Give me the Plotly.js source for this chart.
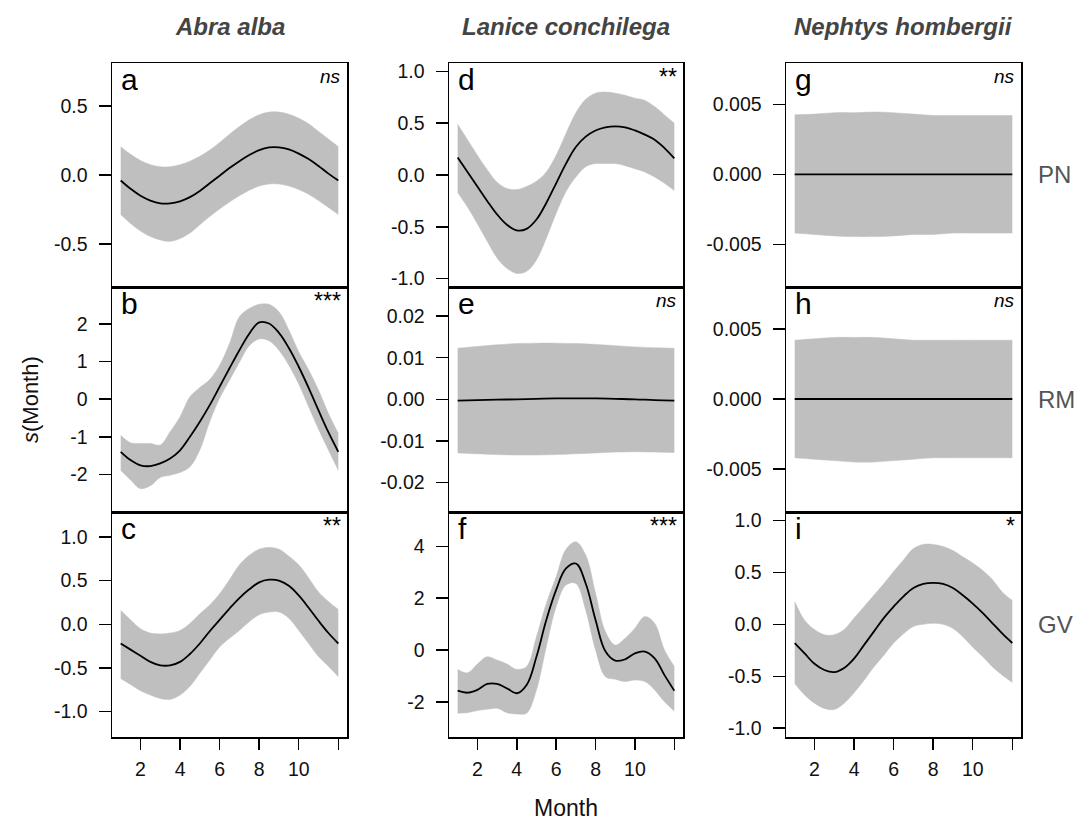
<!DOCTYPE html>
<html><head><meta charset="utf-8">
<script src="https://cdn.plot.ly/plotly-3.0.1.min.js"></script>
<style>html,body{margin:0;padding:0;background:#fff}#chart{width:1084px;height:827px}</style>
</head><body><div id="chart"></div>
<script>
// ---------------- DATA ----------------
const species = ["Abra alba", "Lanice conchilega", "Nephtys hombergii"];
const sites = ["PN", "RM", "GV"];
const panelLetters = ["a", "b", "c", "d", "e", "f", "g", "h", "i"];
const signif = ["ns", "***", "**", "**", "ns", "***", "ns", "ns", "*"];

const months = [1, 1.5, 2, 2.5, 3, 3.5, 4, 4.5, 5, 5.5, 6, 6.5, 7, 7.5, 8, 8.5, 9, 9.5, 10, 10.5, 11, 11.5, 12];
const flatMonths = [1, 2, 3, 4, 5, 6, 7, 8, 9, 10, 11, 12];

// a: Abra alba, PN
const aFit   = [-0.04,-0.10,-0.15,-0.185,-0.205,-0.205,-0.19,-0.16,-0.115,-0.06,-0.005,0.05,0.10,0.145,0.18,0.20,0.20,0.185,0.155,0.115,0.065,0.01,-0.04];
const aUpper = [0.205,0.15,0.105,0.075,0.06,0.06,0.075,0.10,0.135,0.18,0.235,0.295,0.35,0.40,0.435,0.455,0.455,0.44,0.41,0.37,0.315,0.26,0.205];
const aLower = [-0.285,-0.35,-0.405,-0.445,-0.47,-0.48,-0.46,-0.42,-0.36,-0.30,-0.245,-0.195,-0.15,-0.11,-0.08,-0.065,-0.065,-0.08,-0.105,-0.14,-0.185,-0.235,-0.285];
// b: Abra alba, RM
const bFit   = [-1.40,-1.62,-1.76,-1.78,-1.71,-1.58,-1.36,-1.00,-0.60,-0.16,0.33,0.82,1.30,1.74,2.04,2.01,1.76,1.36,0.86,0.30,-0.30,-0.88,-1.40];
const bUpper = [-0.96,-1.16,-1.18,-1.18,-1.22,-0.87,-0.47,0.06,0.31,0.52,0.90,1.48,2.19,2.41,2.52,2.52,2.32,1.84,1.26,0.78,0.24,-0.38,-0.91];
const bLower = [-1.89,-2.15,-2.38,-2.30,-2.08,-2.02,-1.95,-1.80,-1.35,-0.60,0.02,0.50,0.98,1.42,1.60,1.55,1.30,0.90,0.40,-0.20,-0.80,-1.35,-1.89];
// c: Abra alba, GV
const cFit   = [-0.22,-0.29,-0.36,-0.43,-0.47,-0.47,-0.43,-0.34,-0.22,-0.08,0.05,0.18,0.30,0.40,0.48,0.51,0.50,0.44,0.33,0.19,0.04,-0.10,-0.22];
const cUpper = [0.16,0.05,-0.05,-0.10,-0.11,-0.10,-0.07,0.01,0.12,0.22,0.35,0.51,0.68,0.79,0.86,0.88,0.86,0.78,0.68,0.53,0.37,0.26,0.17];
const cLower = [-0.62,-0.69,-0.76,-0.81,-0.85,-0.86,-0.81,-0.71,-0.56,-0.41,-0.26,-0.16,-0.07,0.03,0.11,0.14,0.14,0.07,-0.07,-0.22,-0.37,-0.48,-0.60];
// d: Lanice conchilega, PN
const dFit   = [0.17,0.03,-0.11,-0.25,-0.38,-0.48,-0.535,-0.52,-0.43,-0.27,-0.08,0.11,0.27,0.37,0.43,0.46,0.47,0.46,0.43,0.39,0.34,0.26,0.16];
const dUpper = [0.49,0.34,0.19,0.05,-0.07,-0.13,-0.14,-0.11,-0.06,0.03,0.19,0.40,0.60,0.73,0.79,0.80,0.79,0.77,0.74,0.72,0.66,0.58,0.50];
const dLower = [-0.17,-0.31,-0.47,-0.64,-0.80,-0.90,-0.95,-0.93,-0.82,-0.61,-0.37,-0.16,-0.02,0.08,0.11,0.11,0.11,0.09,0.06,0.03,-0.02,-0.08,-0.15];
// e: Lanice conchilega, RM
const eFit   = [-0.0003,-0.0002,-0.0001,0.0000,0.0001,0.0002,0.0002,0.0002,0.0001,0.0000,-0.0002,-0.0003];
const eUpper = [0.0123,0.0127,0.0131,0.0134,0.0135,0.0135,0.0134,0.0132,0.0129,0.0126,0.0124,0.0123];
const eLower = [-0.0129,-0.0131,-0.0133,-0.0134,-0.0134,-0.0133,-0.0131,-0.0129,-0.0127,-0.0126,-0.0127,-0.0128];
// f: Lanice conchilega, GV
const fFit   = [-1.57,-1.65,-1.54,-1.31,-1.31,-1.48,-1.67,-1.35,-0.26,1.16,2.32,3.15,3.34,2.57,1.16,-0.05,-0.41,-0.36,-0.13,-0.06,-0.32,-0.97,-1.57];
const fUpper = [-0.75,-0.88,-0.54,-0.26,-0.39,-0.54,-0.75,-0.64,0.51,1.80,2.83,3.89,4.18,3.67,2.19,0.71,0.19,0.45,0.84,1.29,1.03,0.00,-0.64];
const fLower = [-2.44,-2.42,-2.34,-2.29,-2.25,-2.42,-2.47,-2.44,-1.54,0.13,1.67,2.51,2.57,1.54,0.00,-1.03,-1.13,-1.22,-1.16,-1.22,-1.54,-2.00,-2.36];
// g: Nephtys hombergii, PN
const gFit   = [0,0,0,0,0,0,0,0,0,0,0,0];
const gUpper = [0.00425,0.0043,0.0044,0.0044,0.00445,0.0044,0.0043,0.0042,0.0042,0.0042,0.0042,0.0042];
const gLower = [-0.0042,-0.0043,-0.0044,-0.00445,-0.00445,-0.0044,-0.0043,-0.0043,-0.0042,-0.0042,-0.0042,-0.0042];
// h: Nephtys hombergii, RM
const hFit   = [0,0,0,0,0,0,0,0,0,0,0,0];
const hUpper = [0.0042,0.0043,0.0044,0.0044,0.0044,0.0043,0.0042,0.0042,0.0042,0.0042,0.0042,0.0042];
const hLower = [-0.0042,-0.0043,-0.0044,-0.0045,-0.0045,-0.0044,-0.0043,-0.0042,-0.0042,-0.0042,-0.0042,-0.0042];
// i: Nephtys hombergii, GV
const iFit   = [-0.18,-0.28,-0.38,-0.44,-0.46,-0.42,-0.33,-0.20,-0.07,0.06,0.17,0.27,0.35,0.39,0.40,0.39,0.35,0.28,0.20,0.11,0.01,-0.09,-0.18];
const iUpper = [0.22,0.04,-0.05,-0.10,-0.10,-0.05,0.06,0.17,0.28,0.39,0.51,0.62,0.73,0.77,0.77,0.75,0.71,0.65,0.59,0.52,0.43,0.31,0.23];
const iLower = [-0.57,-0.68,-0.76,-0.81,-0.82,-0.76,-0.66,-0.54,-0.41,-0.30,-0.18,-0.09,-0.02,0.00,0.01,0.00,-0.04,-0.12,-0.22,-0.31,-0.41,-0.49,-0.56];

// tick labels
const xTickVals = [2, 4, 6, 8, 10, 12];
const xTickText = ["2", "4", "6", "8", "10", ""];
const yTickVals = [
  [-0.5, 0, 0.5], [-2, -1, 0, 1, 2], [-1, -0.5, 0, 0.5, 1],
  [-1, -0.5, 0, 0.5, 1], [-0.02, -0.01, 0, 0.01, 0.02], [-2, 0, 2, 4],
  [-0.005, 0, 0.005], [-0.005, 0, 0.005], [-1, -0.5, 0, 0.5, 1]
];
const yTickText = [
  ["-0.5", "0.0", "0.5"], ["-2", "-1", "0", "1", "2"], ["-1.0", "-0.5", "0.0", "0.5", "1.0"],
  ["-1.0", "-0.5", "0.0", "0.5", "1.0"], ["-0.02", "-0.01", "0.00", "0.01", "0.02"], ["-2", "0", "2", "4"],
  ["-0.005", "0.000", "0.005"], ["-0.005", "0.000", "0.005"], ["-1.0", "-0.5", "0.0", "0.5", "1.0"]
];

// ---------------- BUILD ----------------
const series = [
  [months, aFit, aUpper, aLower], [months, bFit, bUpper, bLower], [months, cFit, cUpper, cLower],
  [months, dFit, dUpper, dLower], [flatMonths, eFit, eUpper, eLower], [months, fFit, fUpper, fLower],
  [flatMonths, gFit, gUpper, gLower], [flatMonths, hFit, hUpper, hLower], [months, iFit, iUpper, iLower]
];
const yRanges = [
  [-0.81, 0.81], [-3.0, 2.98], [-1.29, 1.285],
  [-1.081, 1.081], [-0.0271, 0.027], [-3.36, 5.33],
  [-0.00805, 0.00795], [-0.00807, 0.008], [-1.085, 1.082]
];
const W = 1084, H = 827;
const colPx = [[112, 347], [449, 683], [786, 1021]];
const rowPx = [[63, 287], [287, 512], [512, 737]];
const FONT = "Liberation Sans, Arial, Helvetica, sans-serif";
const BAND = "#bfbfbf";
const TICKFONT = {size: 19.5, color: "#111", family: FONT};

const data = [];
const layout = {
  width: W, height: H, margin: {l: 0, r: 0, t: 0, b: 0},
  paper_bgcolor: "#fff", plot_bgcolor: "#fff", showlegend: false,
  font: {family: FONT, size: 17, color: "#111"},
  annotations: []
};

for (let k = 0; k < 9; k++) {
  const col = Math.floor(k / 3), row = k % 3;
  const sfx = k === 0 ? "" : String(k + 1);
  const [xs, fit, up, lo] = series[k];
  const xa = "x" + sfx, ya = "y" + sfx;
  data.push({x: xs, y: lo, xaxis: xa, yaxis: ya, type: "scatter", mode: "lines",
    line: {color: BAND, width: 0.5, shape: "spline", smoothing: 1}, hoverinfo: "skip"});
  data.push({x: xs, y: up, xaxis: xa, yaxis: ya, type: "scatter", mode: "lines", fill: "tonexty",
    fillcolor: BAND, line: {color: BAND, width: 0.5, shape: "spline", smoothing: 1}, hoverinfo: "skip"});
  data.push({x: xs, y: fit, xaxis: xa, yaxis: ya, type: "scatter", mode: "lines",
    line: {color: "#000", width: 1.8, shape: "spline", smoothing: 1.1}});

  const bottom = row === 2;
  layout["xaxis" + sfx] = {
    domain: [colPx[col][0] / W, colPx[col][1] / W], anchor: ya,
    range: [0.56, 12.44], showgrid: false, zeroline: false,
    showline: true, mirror: true, linecolor: "#000", linewidth: 1.5,
    ticks: bottom ? "outside" : "", ticklen: 11, tickwidth: 1.5, tickcolor: "#000",
    tickvals: xTickVals, ticktext: xTickText, showticklabels: bottom,
    ticklabelstandoff: 3, tickfont: TICKFONT
  };
  layout["yaxis" + sfx] = {
    domain: [1 - rowPx[row][1] / H, 1 - rowPx[row][0] / H], anchor: xa,
    range: yRanges[k], showgrid: false, zeroline: false,
    showline: true, mirror: true, linecolor: "#000", linewidth: 1.5,
    ticks: "outside", ticklen: 12, tickwidth: 1.5, tickcolor: "#000",
    tickvals: yTickVals[k], ticktext: yTickText[k],
    ticklabelstandoff: 7, tickfont: TICKFONT
  };
  layout.annotations.push({
    xref: xa + " domain", yref: ya + " domain", x: 0.028, y: 1.01, xanchor: "left", yanchor: "top",
    text: panelLetters[k], showarrow: false, font: {size: 30, color: "#000", family: FONT}
  });
  const isNs = signif[k] === "ns";
  layout.annotations.push({
    xref: xa + " domain", yref: ya + " domain", x: 0.985, y: isNs ? 0.995 : 1.005, xanchor: "right", yanchor: "top",
    text: isNs ? "<i>ns</i>" : signif[k], showarrow: false,
    font: {size: isNs ? 19 : 23, color: "#000", family: FONT}
  });
}

// column titles
for (let c = 0; c < 3; c++) {
  layout.annotations.push({
    xref: "paper", yref: "paper", x: (colPx[c][0] + colPx[c][1]) / 2 / W, y: 1 - 26 / H,
    xanchor: "center", yanchor: "middle", showarrow: false,
    text: "<b><i>" + species[c] + "</i></b>", font: {size: 24, color: "#444", family: FONT}
  });
}
// row labels
for (let r = 0; r < 3; r++) {
  layout.annotations.push({
    xref: "paper", yref: "paper", x: 1036 / W, y: 1 - ((rowPx[r][0] + rowPx[r][1]) / 2) / H,
    xanchor: "left", yanchor: "middle", showarrow: false,
    text: sites[r], font: {size: 24, color: "#555", family: FONT}
  });
}
// axis titles
layout.annotations.push({
  xref: "paper", yref: "paper", x: 30 / W, y: 1 - 400 / H, xanchor: "center", yanchor: "middle",
  textangle: -90, showarrow: false, text: "<i>s</i>(Month)", font: {size: 22, color: "#111", family: FONT}
});
layout.annotations.push({
  xref: "paper", yref: "paper", x: 566 / W, y: 1 - 808 / H, xanchor: "center", yanchor: "middle",
  showarrow: false, text: "Month", font: {size: 23, color: "#111", family: FONT}
});

Plotly.newPlot("chart", data, layout, {displayModeBar: false, staticPlot: true});
</script></body></html>
